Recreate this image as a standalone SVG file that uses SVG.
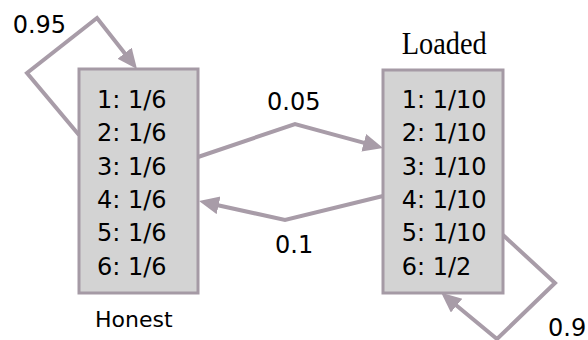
<svg xmlns="http://www.w3.org/2000/svg" width="588" height="340" viewBox="0 0 588 340">
<style>
.box{fill:#d3d3d3;stroke:#a59aa5;stroke-width:3}
.edge{fill:none;stroke:#a89ca8;stroke-width:4;stroke-linejoin:miter}
.t{font-family:"DejaVu Sans",sans-serif;font-size:24px;fill:#000}
.lbl{font-family:"DejaVu Sans",sans-serif;font-size:22px;fill:#000}
.mono{font-family:"Liberation Serif",serif;font-size:31px;fill:#000}
</style>
<defs>
<marker id="ah" markerUnits="userSpaceOnUse" markerWidth="22" markerHeight="20" refX="10" refY="9" orient="auto">
<path d="M0,0 L20,9 L0,18 z" fill="#a89ca8"/>
</marker>
</defs>
<rect width="588" height="340" fill="#fff"/>
<g id="connectors">
<polyline class="edge" points="79,135 27,73 97,18 130.8,61.1" marker-end="url(#ah)"/>
<polyline class="edge" points="198,157 295,124 373.4,145.4" marker-end="url(#ah)"/>
<polyline class="edge" points="383,196 285,220 208.8,203.2" marker-end="url(#ah)"/>
<polyline class="edge" points="503,235 555,283 497,339 448.9,299.2" marker-end="url(#ah)"/>
<text class="t" x="12.7" y="33">0.95</text>
<text class="t" x="267" y="110">0.05</text>
<text class="t" x="275" y="253">0.1</text>
<text class="t" x="548" y="336">0.9</text>
</g>
<g id="honest">
<rect class="box" x="79" y="69" width="119" height="224"/>
<text class="t" x="97" y="108">1: 1/6</text>
<text class="t" x="97" y="141.3">2: 1/6</text>
<text class="t" x="97" y="174.6">3: 1/6</text>
<text class="t" x="97" y="208">4: 1/6</text>
<text class="t" x="97" y="241.3">5: 1/6</text>
<text class="t" x="97" y="274.6">6: 1/6</text>
<text class="lbl" x="95" y="326.7">Honest</text>
</g>
<g id="loaded">
<rect class="box" x="383" y="70" width="120" height="223"/>
<text class="t" x="401.7" y="108">1: 1/10</text>
<text class="t" x="401.7" y="141.3">2: 1/10</text>
<text class="t" x="401.7" y="174.6">3: 1/10</text>
<text class="t" x="401.7" y="208">4: 1/10</text>
<text class="t" x="401.7" y="241.3">5: 1/10</text>
<text class="t" x="401.7" y="274.6">6: 1/2</text>
<text class="mono" x="401.7" y="54.3" textLength="85" lengthAdjust="spacingAndGlyphs">Loaded</text>
</g>
</svg>
